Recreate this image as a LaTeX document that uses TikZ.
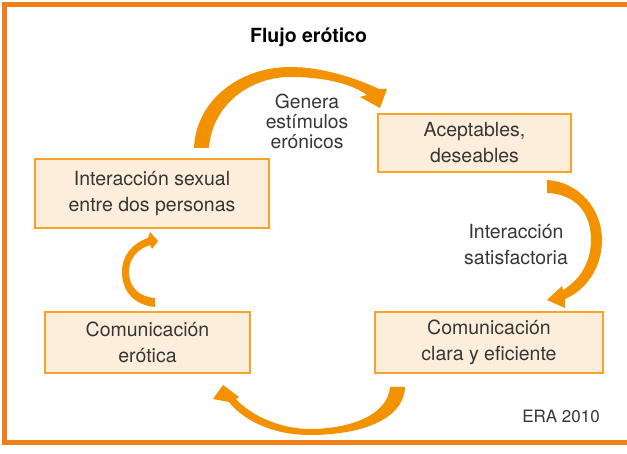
\documentclass[tikz,border=0pt]{standalone}
\usepackage{fontspec}
\setmainfont{TeX Gyre Heros}
\definecolor{frameor}{HTML}{F07F1A}
\definecolor{arrowor}{HTML}{F39200}
\definecolor{boxline}{HTML}{F5A329}
\definecolor{boxfill}{HTML}{FDEEDC}
\definecolor{txt}{HTML}{363636}
\tikzset{
  stagebox/.style={draw=boxline, fill=boxfill, line width=2pt, inner sep=0pt,
    align=center, text=txt, font=\fontsize{19.5}{26}\selectfont},
  lbl/.style={inner sep=0pt, align=center, text=txt},
  flowarrow/.style={fill=arrowor, draw=none}
}
\begin{document}
\begin{tikzpicture}[x=1pt,y=-1pt]
\useasboundingbox (0,0) rectangle (627,454);
% frame
\draw[frameor, line width=5pt] (627,4.5) -- (4.5,4.5) -- (4.5,442.5) -- (627,442.5);
% title
\node[inner sep=0pt, font=\bfseries\fontsize{19.5}{24}\selectfont] (title) at (308.5,37) {Flujo erótico};
% boxes
\node[stagebox, minimum width=234pt, minimum height=69pt] (inter) at (152,193.5) {Interacción sexual\\entre dos personas};
\node[stagebox, minimum width=193pt, minimum height=58pt] (acep) at (474.5,143) {Aceptables,\\deseables};
\node[stagebox, minimum width=205pt, minimum height=61pt] (comero) at (147.5,342.5) {Comunicación\\erótica};
\node[stagebox, minimum width=228pt, minimum height=61pt] (comcla) at (489,342.5) {Comunicación\\clara y eficiente};
% labels
\node[lbl, font=\fontsize{19.3}{20}\selectfont] (genera) at (307,121) {Genera\\estímulos\\erónicos};
\node[lbl, font=\fontsize{19.5}{26}\selectfont] (satis) at (516,245) {Interacción\\satisfactoria};
\node[lbl, font=\fontsize{17}{20}\selectfont] (era) at (561,416) {ERA 2010};
% arrow: top
\fill[flowarrow] (194,148) .. controls (196,100) and (240,67) .. (290,67)
  .. controls (325,67) and (360,80) .. (379,89)
  -- (387,89) -- (380,108) -- (360,97) -- (367,95)
  .. controls (352,84) and (325,77) .. (290,77)
  .. controls (250,77) and (212,105) .. (209,148) -- cycle;
% arrow: right
\fill[flowarrow] (547,180) .. controls (580,182) and (602,210) .. (602,240)
  .. controls (602,268) and (586,290) .. (565,299)
  -- (565,308) -- (547,300) -- (562,286) -- (563,290)
  .. controls (580,280) and (591,262) .. (591,240)
  .. controls (591,212) and (575,194) .. (547,193) -- cycle;
% arrow: bottom
\fill[flowarrow] (405,387) .. controls (404,420) and (360,435) .. (310,435)
  .. controls (275,435) and (245,422) .. (229,402)
  -- (213,399) -- (223,385) -- (239,397) -- (236,399)
  .. controls (250,415) and (280,429) .. (310,429)
  .. controls (350,429) and (388,415) .. (390,387) -- cycle;
% arrow: left small
\fill[flowarrow] (155,307) .. controls (133,305) and (122,290) .. (122,272)
  .. controls (122,255) and (133,243) .. (148,238)
  -- (150,232) -- (158,241) -- (152,249) -- (150,245)
  .. controls (138,249) and (129,258) .. (129,272)
  .. controls (129,287) and (139,297) .. (155,298) -- cycle;
\end{tikzpicture}
\end{document}
